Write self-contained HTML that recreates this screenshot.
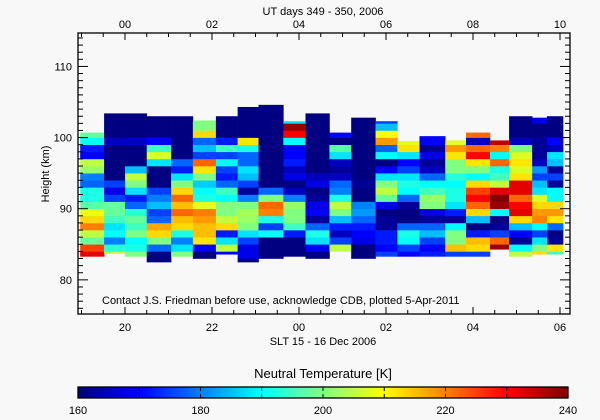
<!DOCTYPE html>
<html><head><meta charset="utf-8">
<style>
html,body{margin:0;padding:0;background:#f8f8f8;}
svg{display:block;font-family:"Liberation Sans",sans-serif;}
text{fill:#000;font-size:11px;}
</style></head>
<body>
<svg id="chart" width="600" height="420" viewBox="0 0 600 420">
  <rect x="0" y="0" width="600" height="420" fill="#f8f8f8"/>
  <g id="cells"></g>
  <g id="axes"></g>
  <text x="323" y="15" text-anchor="middle">UT days 349 - 350, 2006</text>
  <text x="323" y="345" text-anchor="middle">SLT 15 - 16 Dec 2006</text>
  <text x="49" y="174" text-anchor="middle" transform="rotate(-90 49 174)">Height (km)</text>
  <text x="102" y="304">Contact J.S. Friedman before use, acknowledge CDB, plotted 5-Apr-2011</text>
  <text x="323" y="378" text-anchor="middle" font-size="13" style="font-size:13px">Neutral Temperature [K]</text>
  <g id="cbar"></g>
</svg>
<script>
// ---- data ----
const timeEdges = [18.97,19.52,20.0,20.50,21.06,21.56,22.09,22.59,23.07,23.64,24.15,24.70,25.20,25.76,26.26,26.77,27.36,27.84,28.39,28.83,29.36,29.70,30.07];
const bottoms = [83.3,83.7,83.3,82.5,83.3,83.0,83.6,82.5,83.0,83.3,83.0,84.0,83.0,83.3,83.3,83.3,83.3,83.3,84.3,83.3,83.6,83.6];
const tops    = [100.7,103.4,103.4,103.0,103.0,102.4,103.0,104.3,104.6,102.3,103.4,100.7,102.8,102.3,99.5,100.2,99.6,100.7,99.6,103.0,102.8,103.0];
// values per 1-km bin, starting at floor(bottom)
const col01 = [232,225,198,205,220,213,208,197,192,192,178,180,202,205,170,172,190,198];
const col02 = [205,193,180,190,188,195,198,198,175,168,175,160,158,158,158,158,165,155,155,155,155];
const col03 = [200,192,190,200,195,198,193,178,172,188,200,205,185,160,160,160,166,155,155,155,155];
const col04 = [158,160,178,200,213,217,178,175,185,180,175,160,158,160,188,207,195,170,155,155,155];
const col05 = [200,188,180,192,213,215,222,215,222,213,200,188,172,178,160,155,155,155,155,155];
const col06 = [160,170,212,215,215,218,220,208,192,190,186,200,212,222,175,185,178,213,200,200];
const col07 = [170,205,188,172,213,205,200,200,190,195,178,172,175,190,175,195,172,155,155,155];
const col08 = [160,168,168,175,188,200,202,203,200,180,162,175,185,188,178,178,192,212,160,155,155,155,155];
const col09 = [158,158,158,190,175,192,220,222,200,178,160,155,155,155,155,155,155,155,155,155,155,155];
const col10 = [158,158,158,172,195,200,200,202,180,165,160,168,165,172,170,170,190,230,238,188];
const col11 = [160,170,188,192,178,162,170,168,162,160,168,165,160,155,155,155,155,155,155,155,155];
const col12 = [205,175,165,172,185,200,205,192,180,178,165,162,165,188,197,160,170];
const col13 = [158,160,168,170,172,178,182,180,160,160,162,160,155,155,155,155,155,155,155,155];
const col14 = [175,170,172,172,162,162,160,168,198,205,200,188,170,160,190,178,218,210,185,175];
const col15 = [170,175,190,192,178,160,160,162,178,190,192,188,175,170,188,212,208];
const col16 = [172,170,175,185,178,162,168,200,202,195,190,178,165,162,168,162,170,170];
const col17 = [175,215,200,200,190,162,172,188,192,192,190,193,200,200,212,218,208];
const col18 = [175,213,215,172,160,185,213,222,230,225,213,190,200,212,230,222,165,222];
const col19 = [238,222,175,162,160,190,238,240,232,205,195,192,222,190,220,235];
const col20 = [205,190,162,170,185,213,232,230,222,232,232,212,207,212,207,200,165,155,155,155];
const col21 = [213,200,188,175,190,220,218,213,207,188,185,175,182,165,162,162,162,158,155,168];
const col22 = [195,212,162,160,178,212,218,213,190,190,162,175,162,185,188,165,170,155,155,155];
const columns = [col01,col02,col03,col04,col05,col06,col07,col08,col09,col10,col11,col12,col13,col14,col15,col16,col17,col18,col19,col20,col21,col22];
const cbarTicks = [160,180,200,220,240];
const bottomTicks = ["20","22","00","02","04","06"];
const topTicks = ["00","02","04","06","08","10"];
const yTicks = [80,90,100,110];

// ---- scales ----
const X0=78, X1=570, Y0=33, Y1=314;
const hMin=18.92, hMax=30.23;
const kmMin=75.2, kmMax=114.7;
const xs = h => X0 + (h-hMin)/(hMax-hMin)*(X1-X0);
const ys = k => Y1 - (k-kmMin)/(kmMax-kmMin)*(Y1-Y0);
const tMin=160, tMax=240;
function jet(v){
  let t=(v-tMin)/(tMax-tMin); t=Math.max(0,Math.min(1,t));
  const c=x=>Math.round(255*Math.max(0,Math.min(1,x)));
  return `rgb(${c(1.5-Math.abs(4*t-3))},${c(1.5-Math.abs(4*t-2))},${c(1.5-Math.abs(4*t-1))})`;
}
const NS="http://www.w3.org/2000/svg";
function mk(tag,attrs,parent){const e=document.createElementNS(NS,tag);for(const k in attrs)e.setAttribute(k,attrs[k]);parent.appendChild(e);return e;}

// ---- cells ----
const cells=document.getElementById('cells');
columns.forEach((vals,i)=>{
  const xa=xs(timeEdges[i]), xb=xs(timeEdges[i+1]);
  const base=Math.floor(bottoms[i]);
  vals.forEach((v,j)=>{
    const lo=Math.max(base+j,bottoms[i]), hi=Math.min(base+j+1,tops[i]);
    if(hi<=lo) return;
    const r=mk('rect',{x:xa.toFixed(2),y:ys(hi).toFixed(2),width:(xb-xa+0.3).toFixed(2),height:(ys(lo)-ys(hi)+0.3).toFixed(2),fill:jet(v)},cells);
    
    
  });
});

// ---- axes ----
const ax=document.getElementById('axes');
const frame=mk('rect',{x:X0,y:Y0,width:X1-X0,height:Y1-Y0,fill:'none',stroke:'#000','stroke-width':1.3},ax);


// x minor ticks every 0.5h
for(let h=19;h<=30.01;h+=0.5){
  const x=xs(h); const major=Math.abs(h-Math.round(h))<0.01 && Math.round(h)%2===0;
  const L=major?7:4;
  mk('line',{x1:x,y1:Y1,x2:x,y2:Y1-L,stroke:'#000'},ax);
  mk('line',{x1:x,y1:Y0,x2:x,y2:Y0+L,stroke:'#000'},ax);
}
bottomTicks.forEach((lab,i)=>{
  const t=mk('text',{x:xs(20+2*i),y:331,'text-anchor':'middle'},ax); t.textContent=lab;
  
  
});
topTicks.forEach((lab,i)=>{
  const t=mk('text',{x:xs(20+2*i),y:28,'text-anchor':'middle'},ax); t.textContent=lab;
  
  
});
for(let k=76;k<=114;k++){
  const y=ys(k); const L=(k%10===0)?10:5;
  mk('line',{x1:X0,y1:y,x2:X0+L,y2:y,stroke:'#000'},ax);
  mk('line',{x1:X1,y1:y,x2:X1-L,y2:y,stroke:'#000'},ax);
}
yTicks.forEach(k=>{
  const t=mk('text',{x:X0-6,y:ys(k)+4,'text-anchor':'end'},ax); t.textContent=k;
  
  
});

// ---- colorbar ----
const cb=document.getElementById('cbar');
const CX0=78, CX1=568, CY0=387, CY1=398;
const N=160;
for(let i=0;i<N;i++){
  const v=tMin+(i+0.5)/N*(tMax-tMin);
  mk('rect',{x:CX0+i*(CX1-CX0)/N,y:CY0,width:(CX1-CX0)/N+0.4,height:CY1-CY0,fill:jet(v)},cb);
}
mk('rect',{x:CX0,y:CY0,width:CX1-CX0,height:CY1-CY0,fill:'none',stroke:'#000','stroke-width':1.3},cb);
for(let v=170;v<240;v+=10){
  const x=CX0+(v-tMin)/(tMax-tMin)*(CX1-CX0);
  mk('line',{x1:x,y1:CY0,x2:x,y2:CY0+4,stroke:'#000'},cb);
  mk('line',{x1:x,y1:CY1,x2:x,y2:CY1-4,stroke:'#000'},cb);
}
cbarTicks.forEach(v=>{
  const t=mk('text',{x:CX0+(v-tMin)/(tMax-tMin)*(CX1-CX0),y:414,'text-anchor':'middle'},cb); t.textContent=v;
  
  
});
</script>
</body></html>
